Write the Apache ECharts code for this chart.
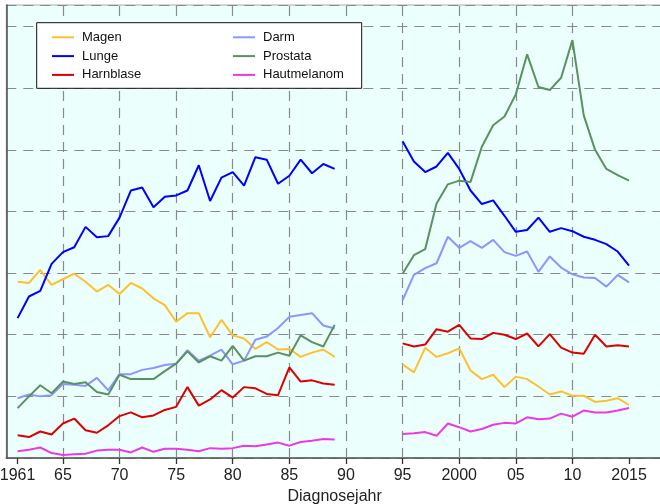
<!DOCTYPE html>
<html><head><meta charset="utf-8">
<script src="https://cdn.jsdelivr.net/npm/echarts@6/dist/echarts.min.js"></script>
<style>html,body{margin:0;padding:0;background:#fff}#c{width:660px;height:504px}</style>
</head><body><div id="c"></div>
<script>
const yearsA = [1961,1962,1963,1964,1965,1966,1967,1968,1969,1970,1971,1972,1973,1974,1975,1976,1977,1978,1979,1980,1981,1982,1983,1984,1985,1986,1987,1988,1989];
const yearsB = [1995,1996,1997,1998,1999,2000,2001,2002,2003,2004,2005,2006,2007,2008,2009,2010,2011,2012,2013,2014,2015];

const magenA = [28.6,28.4,30.5,28.1,29.0,29.9,28.6,27.0,28.1,26.6,28.4,27.5,25.9,24.8,22.1,23.5,23.5,19.6,22.4,19.9,19.4,17.7,18.8,17.6,17.7,16.4,17.1,17.6,16.4];
const lungeA = [22.7,26.2,27.1,31.5,33.4,34.2,37.5,35.8,36.0,39.0,43.4,43.9,40.7,42.4,42.6,43.4,47.5,41.7,45.5,46.4,44.2,48.8,48.4,44.5,45.8,48.4,46.2,47.7,46.9];
const harnA  = [3.7,3.4,4.3,3.8,5.6,6.4,4.5,4.1,5.3,6.8,7.4,6.6,6.9,7.8,8.3,11.5,8.5,9.5,11.0,9.8,11.5,11.3,10.4,10.2,14.7,12.4,12.6,12.1,11.9];
const darmA  = [9.7,10.3,10.0,10.2,12.0,11.9,11.7,13.0,11.0,13.6,13.6,14.3,14.6,15.1,15.3,17.5,15.8,16.6,17.6,15.2,15.8,19.2,19.7,21.1,22.9,23.2,23.5,21.5,21.0];
const prostA = [8.1,10.0,11.8,10.5,12.4,12.0,12.3,10.7,10.3,13.5,12.8,12.8,12.8,14.1,15.3,17.3,15.5,16.5,15.8,18.2,15.8,16.5,16.5,17.1,16.6,19.9,18.8,18.1,21.6];
const hautA  = [1.1,1.35,1.7,0.8,0.5,0.6,0.7,1.2,1.35,1.35,0.9,1.7,1.0,1.5,1.5,1.35,1.1,1.6,1.5,1.6,2.0,1.9,2.2,2.5,2.0,2.6,2.8,3.1,3.0];

const magenB = [15.2,13.9,17.9,16.4,17.0,17.8,14.2,12.8,13.5,11.5,13.2,12.8,11.6,10.3,10.8,10.1,10.1,9.1,9.3,9.7,8.6];
const lungeB = [51.4,48.1,46.4,47.3,49.5,46.9,43.4,41.2,41.8,39.3,36.7,37.0,39.0,36.7,37.3,36.8,35.9,35.4,34.7,33.5,31.2];
const harnB  = [18.6,18.1,18.4,20.9,20.5,21.6,19.4,19.3,20.3,20.0,19.3,20.2,18.1,20.1,17.9,17.1,16.9,20.0,18.1,18.3,18.1];
const darmB  = [25.6,29.7,30.8,31.6,35.9,34.1,35.2,34.1,35.4,33.4,32.8,33.5,30.2,32.7,30.9,29.8,29.3,29.2,27.8,29.7,28.5];
const prostB = [29.9,32.9,33.9,41.3,44.4,45.0,44.8,50.5,54.0,55.4,59.0,65.5,60.2,59.7,61.7,67.8,55.6,50.0,46.9,45.9,45.0];
const hautB  = [3.9,4.0,4.2,3.6,5.6,5.0,4.3,4.7,5.4,5.7,5.6,6.6,6.3,6.4,7.2,6.7,7.7,7.4,7.4,7.7,8.1];

const seriesNames = ['Magen','Lunge','Harnblase','Darm','Prostata','Hautmelanom'];
const seriesColors = ['#ffc02e','#0000ff','#dd0000','#8c96ff','#5b9160','#ee38e6'];
const tickYears = [1961,1965,1970,1975,1980,1985,1990,1995,2000,2005,2010,2015];
const tickLabels = ['1961','65','70','75','80','85','90','95','2000','05','10','2015'];
const gridYears = [1965,1970,1975,1980,1985,1990,1995,2000,2005,2010];

const partsA = [magenA,lungeA,harnA,darmA,prostA,hautA];
const partsB = [magenB,lungeB,harnB,darmB,prostB,hautB];

function build(a, b) {
  const d = yearsA.map((y, i) => [y, a[i]]);
  d.push([1992, null]);
  return d.concat(yearsB.map((y, i) => [y, b[i]]));
}

const FONT = 'Liberation Sans, Arial, Helvetica, sans-serif';
const dash = [10, 7];

const series = seriesNames.map((n, k) => ({
  name: n, type: 'line', data: build(partsA[k], partsB[k]),
  showSymbol: false, symbol: 'none', connectNulls: false,
  lineStyle: { color: seriesColors[k], width: 2 }, itemStyle: { color: seriesColors[k] },
  z: 2
}));
series[0].markLine = {
  silent: true, symbol: 'none', z: 1, animation: false,
  label: { show: false },
  lineStyle: { color: '#8a8a8a', width: 1.2, type: dash },
  data: gridYears.map(y => ({ xAxis: y }))
};

const chart = echarts.init(document.getElementById('c'), null, { renderer: 'canvas' });
const legendCommon = {
  orient: 'vertical', top: 29.3, padding: 0, itemGap: 2.8,
  itemWidth: 22, itemHeight: 2, icon: 'rect', selectedMode: false,
  textStyle: { fontFamily: FONT, fontSize: 13, color: '#111', lineHeight: 16, padding: [0,0,0,3] }
};
chart.setOption({
  animation: false,
  textStyle: { fontFamily: FONT },
  grid: { left: 6.3, right: -3, top: 5, bottom: 46, containLabel: false, outerBoundsMode: 'none',
    show: true, backgroundColor: '#ebfffd', borderColor: '#aaaaaa', borderWidth: 1 },
  xAxis: {
    type: 'value', min: 1960, max: 2018,
    name: 'Diagnosejahr', nameLocation: 'middle', nameGap: 29,
    nameTextStyle: { fontFamily: FONT, fontSize: 16, color: '#222' },
    axisLine: { show: true, lineStyle: { color: '#555', width: 1.6 } },
    axisTick: { show: true, inside: false, length: 6, customValues: tickYears, lineStyle: { color: '#333', width: 1.3 } },
    axisLabel: { show: true, margin: 10, fontFamily: FONT, fontSize: 16, color: '#222', customValues: tickYears,
      hideOverlap: false, formatter: v => tickLabels[tickYears.indexOf(v)] },
    splitLine: { show: false }
  },
  yAxis: {
    type: 'value', min: 0, max: 73.5, interval: 10,
    axisLine: { show: true, lineStyle: { color: '#555', width: 1.6 } },
    axisTick: { show: false }, axisLabel: { show: false },
    splitLine: { show: true, lineStyle: { color: '#8a8a8a', width: 1.2, type: dash } }
  },
  legend: [
    Object.assign({ left: 52, data: seriesNames.slice(0, 3) }, legendCommon),
    Object.assign({ left: 233, data: seriesNames.slice(3) }, legendCommon)
  ],
  graphic: [{
    type: 'rect', z: 3, silent: true,
    shape: { x: 36.7, y: 22.7, width: 325, height: 65.6 },
    style: { fill: '#ffffff', stroke: '#111', lineWidth: 1 }
  }],
  series: series
});
</script></body></html>
